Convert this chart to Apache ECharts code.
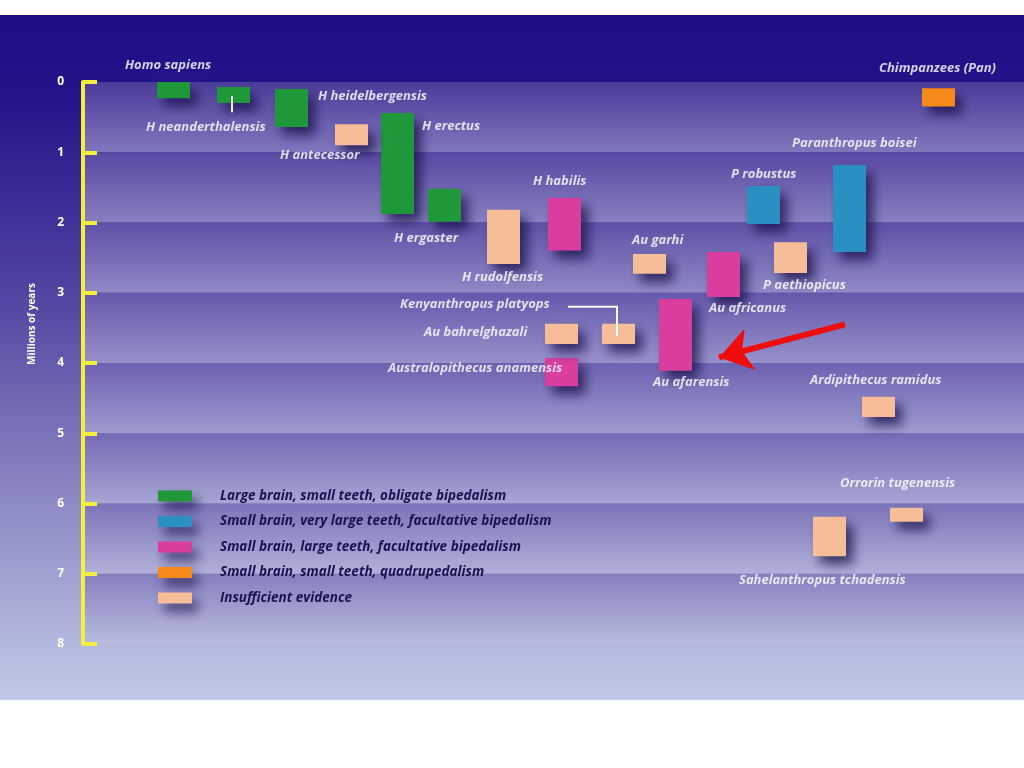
<!DOCTYPE html>
<html>
<head>
<meta charset="utf-8">
<title>Hominin timeline</title>
<script src="https://cdn.jsdelivr.net/npm/echarts@6/dist/echarts.min.js"></script>
<style>
	html, body { margin: 0; padding: 0; background: #fff; }
	#chart { width: 1024px; height: 768px; }
</style>
</head>
<body>
<div id="chart"></div>
<script>
// groups (legend order)
var groups = [
	'Large brain, small teeth, obligate bipedalism',
	'Small brain, very large teeth, facultative bipedalism',
	'Small brain, large teeth, facultative bipedalism',
	'Small brain, small teeth, quadrupedalism',
	'Insufficient evidence'
];
// species, group index, column position, range in millions of years
var species = ['Homo sapiens', 'H neanderthalensis', 'H heidelbergensis', 'H antecessor', 'H erectus',
	'H ergaster', 'H rudolfensis', 'H habilis', 'Au garhi', 'Au africanus', 'Au afarensis',
	'Au bahrelghazali', 'Kenyanthropus platyops', 'Australopithecus anamensis', 'P robustus',
	'P aethiopicus', 'Paranthropus boisei', 'Chimpanzees (Pan)', 'Ardipithecus ramidus',
	'Orrorin tugenensis', 'Sahelanthropus tchadensis'];
var speciesGroup = [0, 0, 0, 4, 0, 0, 4, 2, 4, 2, 2, 4, 4, 2, 1, 4, 1, 3, 4, 4, 4];
var column = [173, 233, 291, 351, 397, 444, 503, 564, 649, 723, 675, 561, 618, 561, 763, 790, 849, 938, 878, 906, 829];
var fromMa = [0, 0.07, 0.1, 0.6, 0.44, 1.52, 1.82, 1.65, 2.45, 2.42, 3.09, 3.44, 3.44, 3.93, 1.48, 2.28, 1.18, 0.09, 4.48, 6.06, 6.19];
var toMa = [0.23, 0.3, 0.64, 0.9, 1.88, 1.99, 2.59, 2.4, 2.73, 3.06, 4.11, 3.73, 3.73, 4.33, 2.02, 2.72, 2.42, 0.35, 4.77, 6.26, 6.75];
// where each name is written (column, Ma)
var labelCol = [125, 146, 318, 280, 422, 394, 462, 533, 632, 709, 653, 424, 400, 388, 731, 763, 792, 879, 810, 840, 739];
var labelMa = [-0.24, 0.65, 0.2, 1.05, 0.63, 2.22, 2.78, 1.42, 2.26, 3.22, 4.28, 3.56, 3.17, 4.07, 1.31, 2.89, 0.87, -0.19, 4.24, 5.71, 7.09];
var yTicks = [0, 1, 2, 3, 4, 5, 6, 7, 8];

var groupColors = ['#1f983a', '#2a90c2', '#d93d9e', '#f5891a', '#f7bd98'];
var bandTop = ['#4b3b9a', '#5848a2', '#5e50a7', '#6558ac', '#6c61b1', '#7369b5', '#7b73b9', '#857fbe'];
var bandBottom = ['#7f77bc', '#8780c0', '#8f89c5', '#9791ca', '#9f9bcf', '#a7a6d4', '#b0b1d9', '#b9bddf'];

var Chart = echarts.init(document.getElementById('chart'));

function barItem(params, api) {
	var a = api.coord([api.value(0), api.value(1)]);
	var b = api.coord([api.value(0), api.value(2)]);
	return {
		type: 'rect',
		shape: { x: a[0] - 16, y: a[1], width: 33, height: b[1] - a[1] },
		style: {
			fill: api.visual('color'),
			shadowBlur: 12,
			shadowOffsetX: 7,
			shadowOffsetY: 8,
			shadowColor: 'rgba(22, 12, 70, 0.75)'
		}
	};
}

var series = [];
// background bands, one per million years
var bands = [];
for(var i = 0; i < yTicks.length - 1; i++) {
	bands.push([{
		yAxis: yTicks[i],
		itemStyle: {
			color: new echarts.graphic.LinearGradient(0, 0, 0, 1, [
				{ offset: 0, color: bandTop[i] },
				{ offset: 1, color: bandBottom[i] }
			])
		}
	}, { yAxis: yTicks[i + 1] }]);
}
series.push({
	type: 'line',
	data: [],
	z: 1,
	silent: true,
	markArea: { silent: true, data: bands }
});

for(var g = 0; g < groups.length; g++) {
	var d = [];
	for(var i = 0; i < species.length; i++) {
		if(speciesGroup[i] == g) {
			d.push([column[i], fromMa[i], toMa[i], species[i]]);
		}
	}
	series.push({
		name: groups[g],
		type: 'custom',
		renderItem: barItem,
		itemStyle: { color: groupColors[g] },
		encode: { x: 0, y: [1, 2] },
		data: d,
		z: 3
	});
}

// connector lines
series.push({
	type: 'lines',
	coordinateSystem: 'cartesian2d',
	polyline: true,
	silent: true,
	z: 4,
	lineStyle: { color: '#ffffff', width: 2, opacity: 0.95 },
	data: [
		{ coords: [[232, 0.2], [232, 0.43]] },
		{ coords: [[568, 3.2], [617, 3.2], [617, 3.62]] }
	]
});

// red arrow
series.push({
	type: 'lines',
	coordinateSystem: 'cartesian2d',
	silent: true,
	z: 6,
	symbol: ['none', 'arrow'],
	symbolSize: 32,
	lineStyle: { color: '#f20d0d', width: 6, opacity: 1 },
	data: [{ coords: [[845, 3.45], [719, 3.92]] }]
});

// names
var labelData = [];
for(var i = 0; i < species.length; i++) {
	labelData.push([labelCol[i], labelMa[i], species[i]]);
}
series.push({
	type: 'scatter',
	symbolSize: 0,
	clip: false,
	silent: true,
	z: 5,
	data: labelData,
	label: {
		show: true,
		position: 'right',
		distance: 0,
		formatter: function(p) { return p.value[2]; },
		color: '#ffffff',
		fontSize: 13,
		fontWeight: 'bold',
		fontStyle: 'italic',
		fontFamily: 'Open Sans'
	}
});

option = {
	animation: false,
	graphic: [{
		type: 'rect',
		z: -10,
		shape: { x: 0, y: 15, width: 1024, height: 685 },
		style: {
			fill: new echarts.graphic.LinearGradient(0, 0, 0, 1, [
				{ offset: 0, color: '#1e0e86' },
				{ offset: 0.12, color: '#24148a' },
				{ offset: 0.4, color: '#4f43a0' },
				{ offset: 0.7, color: '#8a88c2' },
				{ offset: 1, color: '#c2cae8' }
			])
		}
	}, {
		type: 'text',
		z: 10,
		x: 32,
		y: 324,
		rotation: Math.PI / 2,
		style: {
			text: 'Millions of years',
			fill: '#ffffff',
			font: 'bold 10px "Open Sans"',
			align: 'center',
			verticalAlign: 'middle'
		}
	}],
	grid: {
		left: 83,
		right: 0,
		top: 82,
		bottom: 124
	},
	legend: {
		orient: 'vertical',
		left: 153,
		top: 484,
		itemWidth: 34,
		itemHeight: 11,
		itemGap: 11.5,
		icon: 'rect',
		selectedMode: false,
		data: groups,
		itemStyle: {
			shadowBlur: 12,
			shadowOffsetX: 6,
			shadowOffsetY: 8,
			shadowColor: 'rgba(22, 12, 70, 0.7)'
		},
		textStyle: {
			color: '#1a1250',
			fontSize: 13.5,
			fontWeight: 'bold',
			fontStyle: 'italic',
			fontFamily: 'Open Sans',
			lineHeight: 14,
			padding: [0, 0, 0, 23]
		}
	},
	xAxis: {
		type: 'value',
		min: 83,
		max: 1024,
		show: false
	},
	yAxis: {
		type: 'value',
		inverse: true,
		min: 0,
		max: 8,
		interval: 1,
		z: 10,
		axisLine: { show: true, lineStyle: { color: '#f3ef3c', width: 4 } },
		axisTick: { show: true, inside: true, length: 14, lineStyle: { color: '#f3ef3c', width: 4 } },
		axisLabel: {
			color: '#ffffff',
			fontSize: 12,
			fontWeight: 'bold',
			fontFamily: 'Open Sans',
			margin: 19
		},
		splitLine: { show: false }
	},
	series: series
};
Chart.setOption(option);
</script>
</body>
</html>
